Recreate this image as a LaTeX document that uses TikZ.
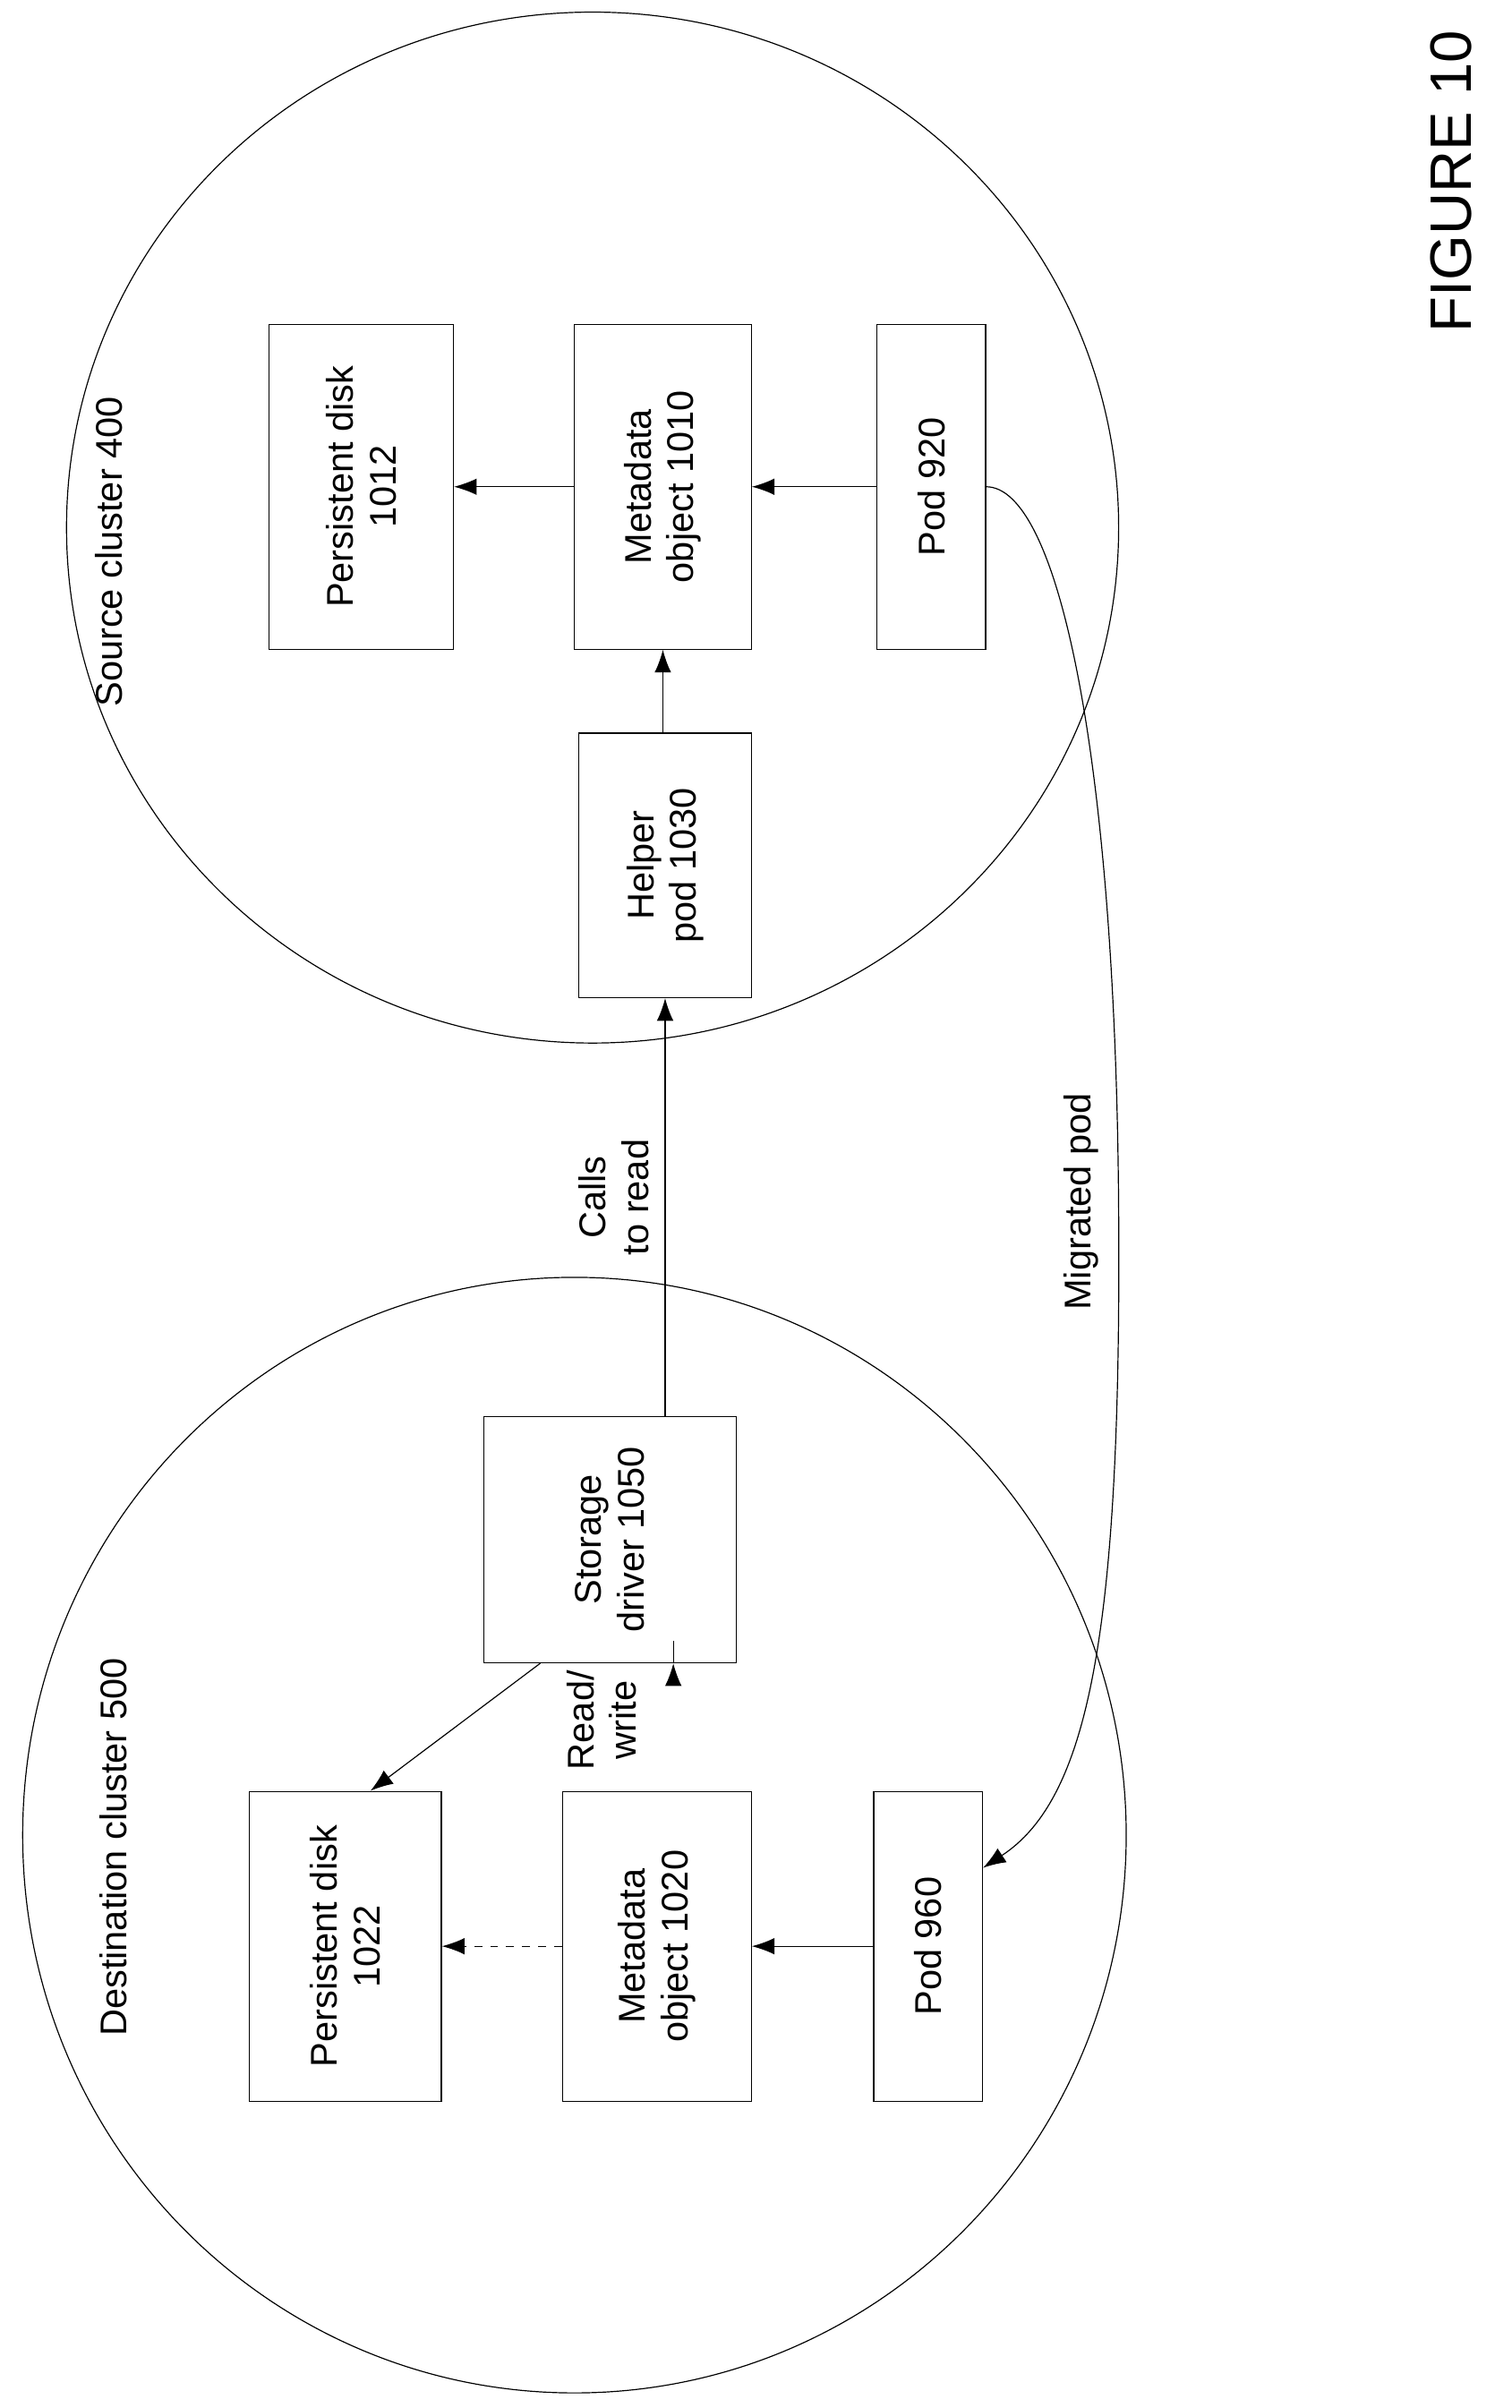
\documentclass[tikz,border=0pt]{standalone}
\usepackage{fontspec}
\setmainfont{Liberation Sans}
\usetikzlibrary{arrows.meta, positioning, calc}

\begin{document}
\begin{tikzpicture}[x=0.02cm, y=-0.02cm, >={Latex[length=3mm,width=2.2mm]},
    font=\fontsize{14}{16}\selectfont]
    \tikzstyle{box}=[draw, rotate=90, align=center, inner sep=0pt]
    \tikzstyle{lbl}=[rotate=90, align=center]
    \useasboundingbox (0,0) rectangle (1000,1593);

    % clusters
    \draw (392,349) ellipse [x radius=348, y radius=341];
    \draw (380,1214) ellipse [x radius=365, y radius=369];
    \node[lbl] (src) at (72,365) {Source cluster 400};
    \node[lbl] (dst) at (75,1222) {Destination cluster 500};

    \node[box, minimum width=4.3cm, minimum height=2.44cm] (PD-1012) at (239,322) {Persistent disk\\1012};
    \node[box, minimum width=4.3cm, minimum height=2.34cm] (MD-1010) at (438.5,322) {Metadata\\object 1010};
    \node[box, minimum width=4.3cm, minimum height=1.44cm] (Pod-920) at (616,322) {Pod 920};
    \node[box, minimum width=3.5cm, minimum height=2.28cm] (Helper) at (440,572.5) {Helper\\pod 1030};

    \node[box, minimum width=3.26cm, minimum height=3.34cm] (Storage) at (403.5,1018.5) {Storage\\driver 1050};
    \node[box, minimum width=4.1cm, minimum height=2.54cm] (PD-1022) at (228.5,1287.5) {Persistent disk\\1022};
    \node[box, minimum width=4.1cm, minimum height=2.5cm] (MD-1020) at (434.5,1287.5) {Metadata\\object 1020};
    \node[box, minimum width=4.1cm, minimum height=1.44cm] (Pod-960) at (614,1287.5) {Pod 960};

    \draw[->] (MD-1010) -- (PD-1012);
    \draw[->] (Pod-920) -- (MD-1010);
    \draw[->] (Helper.east -| MD-1010) -- (MD-1010.west);
    \draw[->] (Storage.east -| Helper) -- (Helper.west);
    \draw[->] ($(Storage.west)!0.5!(Storage.south west)$) -- ($(Storage.west)!0.5!(Storage.south west)$ |- MD-1020.east);
    \draw[->] ($(Storage.north west)!0.45!(Storage.west)$) -- ($(PD-1022.east)!0.26!(PD-1022.south east)$);
    \draw[->, dashed] (MD-1020) -- (PD-1022);
    \draw[->] (Pod-960) -- (MD-1020);

    \node[lbl] (calls) at (406,792) {Calls\\to read};
    \node[lbl] (rw) at (398,1138) {Read/\\write};

    % migration
    \draw[->] (Pod-920.south) .. controls (700,322) and (738,500) .. (740,800)
        .. controls (742,1080) and (720,1190) .. (Pod-960.325);
    \node[lbl] (mig) at (715,795) {Migrated pod};

    \node[lbl, font=\fontsize{22}{26}\selectfont] (fig) at (960,120) {FIGURE 10};
\end{tikzpicture}
\end{document}
